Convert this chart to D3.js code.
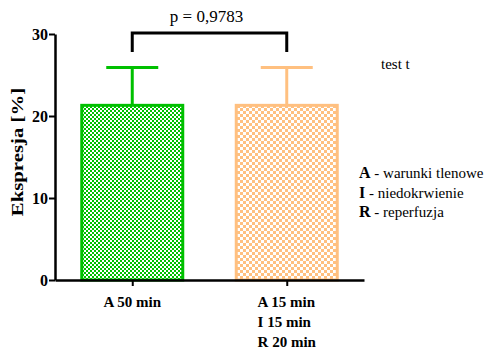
<!DOCTYPE html>
<html>
<head>
<meta charset="utf-8">
<script src="https://d3js.org/d3.v7.min.js"></script>
<style>
  body { margin: 0; background: #fff; }
</style>
</head>
<body>
<svg width="486" height="352" font-family="'Times New Roman', 'Liberation Serif', Times, serif"></svg>
<script>
// data
var groups = ["g1", "g2"];
var groupLabels = [["A 50 min"], ["A 15 min", "I 15 min", "R 20 min"]];
var means = [21.3, 21.3];
var errors = [4.6, 4.6];
var barColors = ["#00c000", "#ffc080"];
var yTicks = [0, 10, 20, 30];
var pLabel = "p = 0,9783";
var testLabel = "test t";
var legendKeys = ["A", "I", "R"];
var legendTexts = [" - warunki tlenowe", " - niedokrwienie", " - reperfuzja"];

var serif = "'Times New Roman', 'Liberation Serif', Times, serif";
var svg = d3.select("svg");

var x = d3.scalePoint().domain(groups).range([55, 364]).padding(0.5);
var y = d3.scaleLinear().domain([0, 30]).range([280, 34]);
var barW = 101;

// checker patterns
var defs = svg.append("defs");
function checker(id, color, cell) {
  var p = defs.append("pattern").attr("id", id)
      .attr("patternUnits", "userSpaceOnUse")
      .attr("width", cell * 2).attr("height", cell * 2);
  p.append("rect").attr("width", cell * 2).attr("height", cell * 2).attr("fill", "#fff");
  p.append("rect").attr("width", cell).attr("height", cell).attr("fill", color);
  p.append("rect").attr("x", cell).attr("y", cell).attr("width", cell).attr("height", cell).attr("fill", color);
}
checker("pat0", "#00c000", 2);
checker("pat1", "#ffc080", 3);

// bars
svg.selectAll(".bar")
  .data(groups)
  .enter().append("rect")
    .attr("class", "bar")
    .attr("x", function(d) { return x(d) - barW / 2; })
    .attr("y", function(d, i) { return y(means[i]); })
    .attr("width", barW)
    .attr("height", function(d, i) { return y(0) - y(means[i]); })
    .attr("fill", function(d, i) { return "url(#pat" + i + ")"; })
    .attr("stroke", function(d, i) { return barColors[i]; })
    .attr("stroke-width", 3);

// error bars
var eb = svg.selectAll(".err").data(groups).enter().append("g").attr("class", "err");
eb.append("line")
    .attr("x1", function(d) { return x(d); })
    .attr("x2", function(d) { return x(d); })
    .attr("y1", function(d, i) { return y(means[i]); })
    .attr("y2", function(d, i) { return y(means[i] + errors[i]); })
    .attr("stroke", function(d, i) { return barColors[i]; })
    .attr("stroke-width", 3);
eb.append("line")
    .attr("x1", function(d) { return x(d) - 26; })
    .attr("x2", function(d) { return x(d) + 26; })
    .attr("y1", function(d, i) { return y(means[i] + errors[i]); })
    .attr("y2", function(d, i) { return y(means[i] + errors[i]); })
    .attr("stroke", function(d, i) { return barColors[i]; })
    .attr("stroke-width", 3);

// y axis
var yAxis = svg.append("g")
    .attr("transform", "translate(55,0)")
    .call(d3.axisLeft(y).tickValues(yTicks).tickSize(6).tickSizeOuter(0).tickFormat(d3.format("d")));
yAxis.attr("font-family", serif);
yAxis.select(".domain").attr("stroke", "#000").attr("stroke-width", 2.5);
yAxis.selectAll(".tick line").attr("stroke-width", 2);
yAxis.selectAll(".tick text")
    .attr("x", -7)
    .attr("font-size", 16).attr("font-weight", "bold").attr("fill", "#000");

// x axis
var xAxis = svg.append("g")
    .attr("transform", "translate(0,280)")
    .call(d3.axisBottom(x).tickSize(6).tickSizeOuter(0).tickFormat(""));
xAxis.select(".domain").attr("stroke", "#000").attr("stroke-width", 2.5);
xAxis.selectAll(".tick line").attr("stroke-width", 2);

// x labels
groups.forEach(function(g, i) {
  var t = svg.append("text")
      .attr("font-size", 15).attr("font-weight", "bold");
  groupLabels[i].forEach(function(s, j) {
    t.append("tspan").attr("x", 0).attr("y", 307 + j * 20).text(s);
  });
  var w = 0;
  t.selectAll("tspan").each(function() { w = Math.max(w, this.getComputedTextLength()); });
  t.attr("transform", "translate(" + (x(g) - w / 2) + ",0)");
});

// y label
svg.append("text")
    .attr("transform", "translate(23,152) rotate(-90) scale(1.3,1)")
    .attr("text-anchor", "middle")
    .attr("font-size", 16).attr("font-weight", "bold")
    .text("Ekspresja [%]");

// significance bracket
var bx1 = x(groups[0]), bx2 = x(groups[1]);
svg.append("path")
    .attr("d", "M" + bx1 + ",52V33H" + bx2 + "V52")
    .attr("fill", "none").attr("stroke", "#000").attr("stroke-width", 3);
svg.append("text")
    .attr("x", (bx1 + bx2) / 2 - 3).attr("y", 22)
    .attr("text-anchor", "middle").attr("font-size", 17)
    .text(pLabel);

svg.append("text")
    .attr("x", 381).attr("y", 69).attr("font-size", 15)
    .text(testLabel);

// legend
legendKeys.forEach(function(k, i) {
  var t = svg.append("text").attr("x", 359).attr("y", 178 + i * 19.5).attr("font-size", 15);
  t.append("tspan").attr("font-weight", "bold").attr("font-size", 16).text(k);
  t.append("tspan").text(legendTexts[i]);
});
</script>
</body>
</html>
